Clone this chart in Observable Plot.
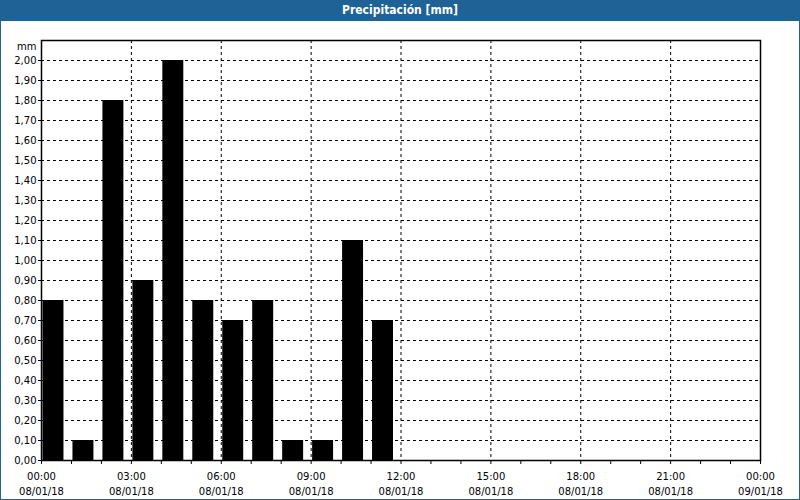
<!DOCTYPE html>
<html>
<head>
<meta charset="utf-8">
<script src="https://cdn.jsdelivr.net/npm/d3@7"></script>
<script src="https://cdn.jsdelivr.net/npm/@observablehq/plot@0.6"></script>
<style>
  html, body { margin: 0; padding: 0; background: #fff; }
  #wrap { position: relative; width: 800px; height: 500px; overflow: hidden; background: #fff; font-family: "DejaVu Sans", sans-serif; }
  #title { position: absolute; left: 0; top: 0; width: 800px; height: 21px; background: #1e6296; color: #fff;
           font: bold 12px "Liberation Sans Narrow", "DejaVu Sans Condensed", sans-serif; text-align: center; line-height: 21px; }
  #total { position: absolute; right: 39px; top: 25px; font-size: 10px; color: #000; }
  #chart { position: absolute; left: 0; top: 21px; }
  #border { position: absolute; left: 0; top: 0; width: 800px; height: 500px; box-sizing: border-box; border: 1px solid #1e6296; border-top: none; pointer-events: none; }
</style>
</head>
<body>
<div id="wrap">
  <div id="title">Precipitación [mm]</div>
  <div id="total">Total =9,9 mm</div>
  <div id="chart"></div>
  <div id="border"></div>
</div>
<script>
// Hourly precipitation (mm), 08/01/18
const hours = [0, 1, 2, 3, 4, 5, 6, 7, 8, 9, 10, 11];
const precip = [0.8, 0.1, 1.8, 0.9, 2.0, 0.8, 0.7, 0.8, 0.1, 0.1, 1.1, 0.7];

const xTicks = [0, 3, 6, 9, 12, 15, 18, 21, 24];
const xTickTimes = ["00:00", "03:00", "06:00", "09:00", "12:00", "15:00", "18:00", "21:00", "00:00"];
const xTickDates = ["08/01/18", "08/01/18", "08/01/18", "08/01/18", "08/01/18", "08/01/18", "08/01/18", "08/01/18", "09/01/18"];
const minorTicks = d3.range(0, 25);
const yTicks = d3.range(0, 21).map(i => i / 10);
const yFmt = v => v.toFixed(2).replace(".", ",");

const data = hours.map((h, i) => ({h, v: precip[i]}));

const plot = Plot.plot({
  width: 800,
  height: 479,
  marginLeft: 41,
  marginRight: 40,
  marginTop: 19,
  marginBottom: 40,
  style: { fontFamily: "DejaVu Sans, sans-serif", fontSize: "10px", color: "#000", background: "#fff" },
  x: { domain: [0, 24] },
  y: { domain: [0, 2.1] },
  marks: [
    Plot.ruleY(yTicks.filter(d => d > 0), { stroke: "#000", strokeDasharray: "3,3", strokeWidth: 1 }),
    Plot.ruleX(xTicks.filter(d => d > 0 && d < 24), { stroke: "#000", strokeDasharray: "3,3", strokeWidth: 1 }),
    Plot.rectY(data, { x1: "h", x2: d => d.h + 1, y: "v", fill: "#000", insetLeft: 1.5, insetRight: 7.5 }),
    Plot.frame({ stroke: "#000", strokeWidth: 1.5 }),
    Plot.axisY({ ticks: yTicks, tickFormat: yFmt, tickSize: 3, tickPadding: 2, label: null }),
    Plot.axisX({ ticks: minorTicks, tickFormat: () => "", tickSize: 4, label: null }),
    Plot.axisX({ ticks: xTicks, tickFormat: (d, i) => xTickTimes[i] + "\n" + xTickDates[i], tickSize: 0, tickPadding: 9, lineHeight: 1.5, label: null }),
    Plot.text(["mm"], { frameAnchor: "left", y: () => 2.07, dx: -5, textAnchor: "end", fontSize: 10 })
  ]
});
document.getElementById("chart").appendChild(plot);
</script>
</body>
</html>
